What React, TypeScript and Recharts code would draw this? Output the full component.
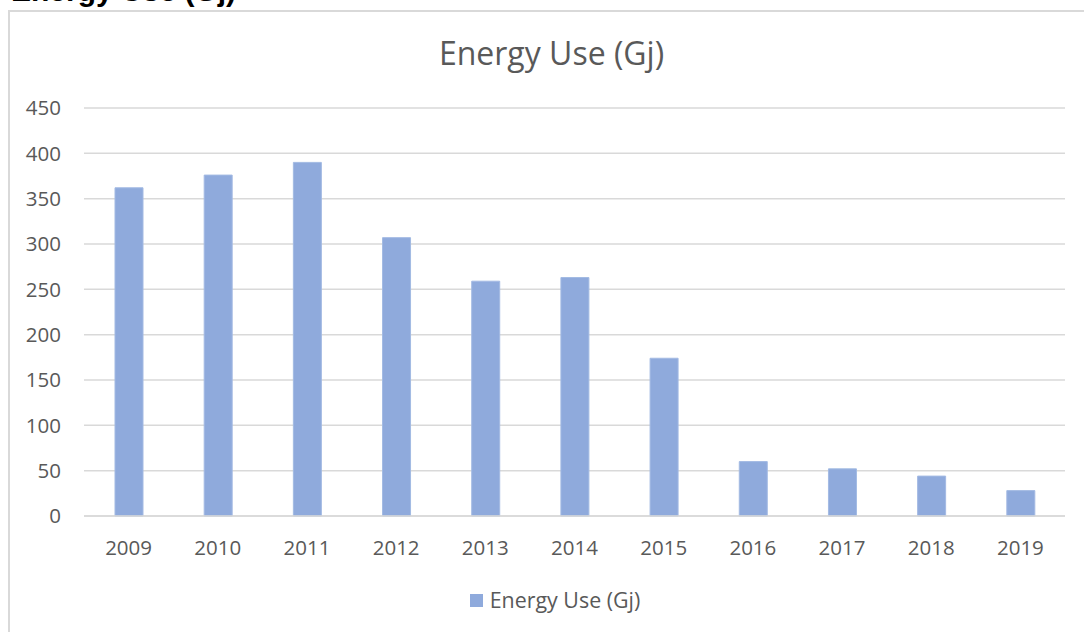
import React from 'react';
import { BarChart, Bar, XAxis, YAxis, CartesianGrid, Legend } from 'recharts';

const years: string[] = ['2009', '2010', '2011', '2012', '2013', '2014', '2015', '2016', '2017', '2018', '2019'];
const energyUse: number[] = [362, 376, 390, 307, 259, 263, 174, 60, 52, 44, 28];
const yTicks: number[] = [0, 50, 100, 150, 200, 250, 300, 350, 400, 450];
const seriesName = 'Energy Use (Gj)';
const chartTitle = 'Energy Use (Gj)';
const croppedHeading = 'Energy Use (Gj)';

const data = years.map((year, i) => ({ year, value: energyUse[i] }));

const FONT = '"Open Sans", "Noto Sans", sans-serif';
const TEXT = '#595959';
const GRID = '#d9d9d9';
const BAR = '#8FAADC';

const renderLegend = (props: any) => {
  const payload = props.payload || [];
  return (
    <div style={{ display: 'flex', justifyContent: 'center', alignItems: 'center', fontFamily: FONT }}>
      {payload.map((entry: any, i: number) => (
        <div key={i} style={{ display: 'flex', alignItems: 'center' }}>
          <span style={{ display: 'inline-block', width: 13, height: 13, background: entry.color, marginRight: 7 }} />
          <span style={{ color: TEXT, fontSize: 21.4, lineHeight: '30px' }}>{entry.value}</span>
        </div>
      ))}
    </div>
  );
};

export default function App() {
  return (
    <div style={{ position: 'fixed', left: 0, top: 0, width: 1084, height: 632, overflow: 'hidden', background: '#fff' }}>
      <svg width={1084} height={632} style={{ position: 'absolute', left: 0, top: 0 }}>
        <text x={11} y={1} fontFamily='"Liberation Sans", Arial, sans-serif' fontWeight={700} fontSize={30} fill="#000">
          {croppedHeading}
        </text>
        <rect x={9} y={11} width={1200} height={800} fill="none" stroke={GRID} strokeWidth={2} />
        <text x={551.5} y={65} textAnchor="middle" fontFamily={FONT} fontSize={32} fill={TEXT}>
          {chartTitle}
        </text>
      </svg>
      <div style={{ position: 'absolute', left: 0, top: 0 }}>
        <BarChart
          width={1084}
          height={632}
          data={data}
          margin={{ top: 108, right: 19, bottom: 86, left: 0 }}
          barCategoryGap="34%"
        >
          <CartesianGrid vertical={false} stroke={GRID} strokeWidth={1.5} />
          <XAxis
            dataKey="year"
            height={30}
            tickLine={false}
            tickSize={0}
            tickMargin={24}
            axisLine={{ stroke: GRID, strokeWidth: 1.5 }}
            tick={{ fill: TEXT, fontSize: 20.5, fontFamily: FONT }}
          />
          <YAxis
            width={84}
            domain={[0, 450]}
            ticks={yTicks}
            interval={0}
            tickLine={false}
            tickSize={0}
            tickMargin={23}
            axisLine={false}
            tick={{ fill: TEXT, fontSize: 20.5, fontFamily: FONT }}
          />
          <Legend
            layout="horizontal"
            verticalAlign="middle"
            align="center"
            content={renderLegend}
            wrapperStyle={{ top: 585, left: 13, width: 1084 }}
          />
          <Bar dataKey="value" name={seriesName} fill={BAR} stroke="#a3bae3" strokeWidth={1} barSize={28} isAnimationActive={false} />
        </BarChart>
      </div>
    </div>
  );
}
